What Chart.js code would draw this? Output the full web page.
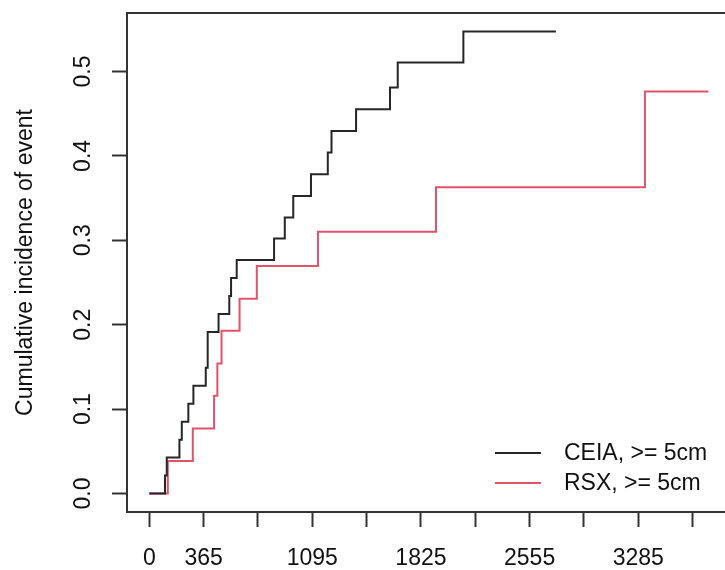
<!DOCTYPE html>
<html>
<head>
<meta charset="utf-8">
<script src="https://cdn.jsdelivr.net/npm/chart.js@4.4.1/dist/chart.umd.min.js"></script>
<style>
  html, body { margin: 0; padding: 0; background: #fff; }
  #wrap { width: 725px; height: 570px; position: relative; }
</style>
</head>
<body>
<div id="wrap"><canvas id="cif"></canvas></div>
<script>
// Cumulative incidence (days, incidence)
const ceiaDays = [0, 105, 117, 202, 218, 262, 296, 379, 392, 465, 537, 549, 587, 838, 910, 967, 1086, 1199, 1224, 1389, 1617, 1669, 2110, 2732];
const ceiaInc  = [0, 0.0213, 0.0426, 0.0638, 0.0851, 0.1064, 0.1277, 0.149, 0.1915, 0.2128, 0.234, 0.2553, 0.2766, 0.302, 0.327, 0.3526, 0.3783, 0.404, 0.4296, 0.4553, 0.481, 0.5107, 0.5474, 0.5474];

const rsxDays = [0, 124, 292, 435, 457, 485, 606, 722, 1133, 1926, 3330, 3756];
const rsxInc  = [0, 0.0385, 0.077, 0.1157, 0.154, 0.1927, 0.2308, 0.2697, 0.31, 0.363, 0.4763, 0.4763];

const seriesNames = ['CEIA, >= 5cm', 'RSX, >= 5cm'];
const seriesColors = ['#262626', '#DF536B'];

const xTicks = [0, 365, 730, 1095, 1460, 1825, 2190, 2555, 2920, 3285, 3650];
const xLabelled = [0, 365, 1095, 1825, 2555, 3285];
const yTicks = [0, 0.1, 0.2, 0.3, 0.4, 0.5];

const FONT = 'Liberation Sans, Arial, Helvetica, sans-serif';

function toPoints(days, inc) {
  return days.map((d, i) => ({ x: d, y: inc[i] }));
}

// R style box: top edge (left / bottom come from the axis borders)
const boxPlugin = {
  id: 'box',
  afterDraw(chart) {
    const { ctx, chartArea } = chart;
    ctx.save();
    ctx.strokeStyle = '#333';
    ctx.lineWidth = 2;
    ctx.beginPath();
    ctx.moveTo(chartArea.left - 1, chartArea.top);
    ctx.lineTo(chartArea.right, chartArea.top);
    ctx.stroke();
    ctx.restore();
  }
};

// legend in the bottom right corner
const cornerLegend = {
  id: 'cornerLegend',
  afterDraw(chart) {
    const { ctx } = chart;
    const x0 = 495, x1 = 541, tx = 564;
    const rows = [453, 483];
    ctx.save();
    ctx.font = '23px ' + FONT;
    ctx.textBaseline = 'middle';
    ctx.textAlign = 'left';
    chart.data.datasets.forEach((ds, i) => {
      ctx.strokeStyle = ds.borderColor;
      ctx.lineWidth = 2;
      ctx.beginPath();
      ctx.moveTo(x0, rows[i]);
      ctx.lineTo(x1, rows[i]);
      ctx.stroke();
      ctx.fillStyle = '#111';
      ctx.fillText(ds.label, tx, rows[i] + 1);
    });
    ctx.restore();
  }
};

const ctx = document.getElementById('cif').getContext('2d');
new Chart(ctx, {
  type: 'line',
  data: {
    datasets: [
      {
        label: seriesNames[0],
        data: toPoints(ceiaDays, ceiaInc),
        borderColor: seriesColors[0],
        borderWidth: 2,
        stepped: true,
        pointRadius: 0,
        fill: false
      },
      {
        label: seriesNames[1],
        data: toPoints(rsxDays, rsxInc),
        borderColor: seriesColors[1],
        borderWidth: 2,
        stepped: true,
        pointRadius: 0,
        fill: false
      }
    ]
  },
  options: {
    responsive: true,
    maintainAspectRatio: false,
    animation: false,
    devicePixelRatio: 1,
    layout: { padding: { top: 13, right: 0, bottom: 0, left: 0 } },
    plugins: {
      legend: { display: false },
      tooltip: { enabled: false }
    },
    scales: {
      x: {
        type: 'linear',
        min: -150.2,
        max: 3868,
        afterBuildTicks: axis => { axis.ticks = xTicks.map(v => ({ value: v })); },
        afterFit: axis => { axis.height = 58; axis.paddingLeft = 0; axis.paddingRight = 0; },
        grid: { drawOnChartArea: false, drawTicks: true, tickLength: 15, tickWidth: 2, tickColor: '#333' },
        border: { display: true, color: '#333', width: 2 },
        ticks: {
          autoSkip: false,
          maxRotation: 0,
          padding: 18,
          color: '#111',
          font: { family: FONT, size: 23 },
          callback: v => xLabelled.includes(v) ? String(v) : ''
        }
      },
      y: {
        type: 'linear',
        min: -0.0219,
        max: 0.5693,
        afterBuildTicks: axis => { axis.ticks = yTicks.map(v => ({ value: v })); },
        afterFit: axis => { axis.width = 127; axis.paddingTop = 0; axis.paddingBottom = 0; },
        grid: { drawOnChartArea: false, drawTicks: true, tickLength: 15, tickWidth: 2, tickColor: '#333' },
        border: { display: true, color: '#333', width: 2 },
        title: {
          display: true,
          text: 'Cumulative incidence of event',
          color: '#111',
          font: { family: FONT, size: 23 },
          padding: { top: 12, bottom: 0 }
        },
        ticks: {
          minRotation: 90,
          maxRotation: 90,
          crossAlign: 'center',
          padding: 12,
          color: '#111',
          font: { family: FONT, size: 23 },
          callback: v => v.toFixed(1)
        }
      }
    }
  },
  plugins: [boxPlugin, cornerLegend]
});
</script>
</body>
</html>
